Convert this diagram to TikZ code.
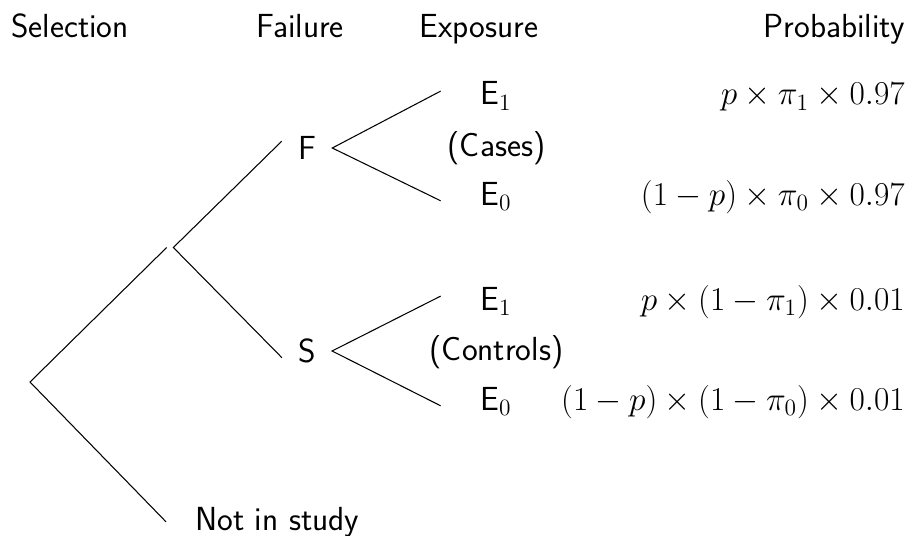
\RequirePackage{fix-cm}
\documentclass[tikz,border=0pt]{standalone}
\usepackage{fontspec}
\usepackage{tikz}

\tikzset{
  branch/.style={line width=0.6pt},
  stage/.style={inner xsep=0.32cm},
  head/.style={anchor=base, inner sep=0pt},
  expo/.style={anchor=base, inner sep=0pt, minimum width=2.2cm},
  prob/.style={anchor=base east, inner sep=0pt},
}

\begin{document}
\begin{tikzpicture}[font=\fontsize{19}{23}\selectfont\sffamily]
  \useasboundingbox (0,0) rectangle (18.14,10.70);

  % column titles
  \node (H1) [head, anchor=base west] at (0.22,9.94) {Selection};
  \node (H2) [head] at (6.00,9.94) {Failure};
  \node (H3) [head] at (9.58,9.94) {Exposure};
  \node (H4) [head, anchor=base east] at (18.10,9.94) {Probability};

  % selection
  \coordinate (root) at (0.60,3.06);
  \node (sel) [inner sep=0pt, minimum size=0.12cm] at (3.40,5.75) {};
  \node (out) [anchor=base west, inner xsep=0.58cm] at (3.32,0.10) {Not in study};
  \draw[branch] (sel.west) -- (root) -- (out.west);

  % failure
  \node (F) [stage] at (6.14,7.74) {F};
  \node (S) [stage] at (6.14,3.68) {S};
  \draw[branch] (F.165) -- (sel.east) -- (S.195);

  % exposure, cases
  \node (FE1) [expo] at (9.92,8.60) {E$_1$};
  \node (FC) [expo, minimum width=0pt] at (9.93,7.58) {(Cases)};
  \node (FE0) [expo] at (9.92,6.60) {E$_0$};
  \draw[branch] (FE1.175) -- (F.east) -- (FE0.185);

  % exposure, controls
  \node (SE1) [expo] at (9.92,4.50) {E$_1$};
  \node (SC) [expo, minimum width=0pt] at (9.93,3.50) {(Controls)};
  \node (SE0) [expo] at (9.92,2.50) {E$_0$};
  \draw[branch] (SE1.175) -- (S.east) -- (SE0.185);

  % probabilities
  \node (P1) [prob] at (18.10,8.60) {$p\times\pi_1\times0.97$};
  \node (P2) [prob] at (18.10,6.60) {$(1-p)\times\pi_0\times0.97$};
  \node (P3) [prob] at (18.10,4.50) {$p\times(1-\pi_1)\times0.01$};
  \node (P4) [prob] at (18.10,2.50) {$(1-p)\times(1-\pi_0)\times0.01$};
\end{tikzpicture}
\end{document}
